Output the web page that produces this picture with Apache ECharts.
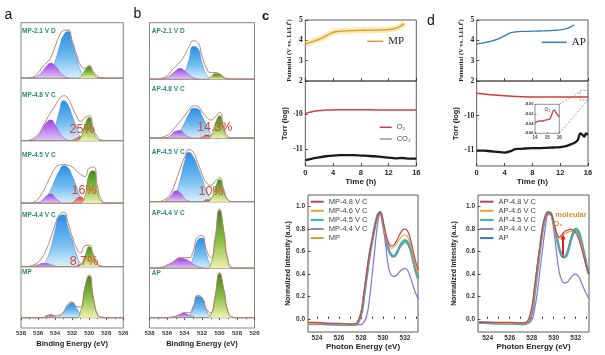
<!DOCTYPE html>
<html><head><meta charset="utf-8">
<script src="https://cdn.jsdelivr.net/npm/echarts@6/dist/echarts.min.js"></script>
<style>html,body{margin:0;padding:0;background:#fff}#c{width:605px;height:355px}</style>
</head><body><div id="c"></div>
<script>
// ---------- XPS (O 1s) data: binding energy grid and peak components (fraction of sub-panel height) ----------
const XPS_EV = [538,537.5,537,536.5,536,535.5,535,534.5,534,533.5,533,532.5,532,531.5,531,530.5,530,529.5,529,528.5,528,527.5,527,526.5,526];

const a1Purple = [0,0,0,0.01,0.05,0.12,0.22,0.27,0.22,0.12,0.05,0.01,0,0,0,0,0,0,0,0,0,0,0,0,0];
const a1Blue   = [0,0,0,0,0,0,0.03,0.10,0.30,0.56,0.78,0.84,0.64,0.38,0.13,0.02,0,0,0,0,0,0,0,0,0];
const a1Green  = [0,0,0,0,0,0,0,0,0,0,0,0,0,0,0.03,0.14,0.21,0.09,0.01,0,0,0,0,0,0];
const a1Env    = [0,0,0.01,0.03,0.10,0.20,0.28,0.38,0.57,0.76,0.86,0.87,0.68,0.44,0.23,0.18,0.23,0.12,0.04,0.01,0,0,0,0,0];

const a2Purple = [0,0,0,0.02,0.07,0.18,0.29,0.33,0.25,0.13,0.05,0.01,0,0,0,0,0,0,0,0,0,0,0,0,0];
const a2Blue   = [0,0,0,0,0,0,0.01,0.07,0.22,0.47,0.64,0.58,0.40,0.22,0.05,0,0,0,0,0,0,0,0,0,0];
const a2Red    = [0,0,0,0,0,0,0,0,0,0,0,0,0.01,0.04,0.065,0.05,0.02,0,0,0,0,0,0,0,0];
const a2Green  = [0,0,0,0,0,0,0,0,0,0,0,0,0,0,0.05,0.25,0.37,0.15,0.02,0,0,0,0,0,0];
const a2Env    = [0,0,0.01,0.04,0.10,0.21,0.34,0.46,0.56,0.67,0.72,0.68,0.54,0.40,0.31,0.37,0.40,0.20,0.05,0.01,0,0,0,0,0];

const a3Purple = [0,0,0,0,0.01,0.05,0.12,0.15,0.09,0.03,0,0,0,0,0,0,0,0,0,0,0,0,0,0,0];
const a3Blue   = [0,0,0,0,0.01,0.04,0.10,0.22,0.38,0.52,0.60,0.57,0.44,0.27,0.10,0.02,0,0,0,0,0,0,0,0,0];
const a3Red    = [0,0,0,0,0,0,0,0,0,0,0,0,0.01,0.07,0.10,0.04,0.01,0,0,0,0,0,0,0,0];
const a3Green  = [0,0,0,0,0,0,0,0,0,0,0,0,0,0,0.01,0.11,0.47,0.52,0.16,0.02,0,0,0,0,0];
const a3Env    = [0,0,0,0.02,0.07,0.17,0.30,0.44,0.56,0.61,0.62,0.61,0.58,0.52,0.46,0.43,0.56,0.58,0.25,0.04,0,0,0,0,0];

const a4Purple = [0,0,0,0.01,0.03,0.05,0.05,0.03,0.01,0,0,0,0,0,0,0,0,0,0,0,0,0,0,0,0];
const a4Blue   = [0,0,0,0,0,0.03,0.11,0.30,0.57,0.80,0.82,0.62,0.42,0.20,0.05,0,0,0,0,0,0,0,0,0,0];
const a4Red    = [0,0,0,0,0,0,0,0,0,0,0,0,0,0.01,0.03,0.03,0.01,0,0,0,0,0,0,0,0];
const a4Green  = [0,0,0,0,0,0,0,0,0,0,0,0,0,0,0.03,0.17,0.315,0.17,0.03,0,0,0,0,0,0];
const a4Env    = [0,0,0.01,0.03,0.07,0.15,0.28,0.46,0.66,0.82,0.86,0.70,0.48,0.30,0.22,0.33,0.34,0.19,0.05,0.01,0,0,0,0,0];

const a5Purple = [0,0,0,0,0,0,0.03,0.05,0.02,0,0,0,0,0,0,0,0,0,0,0,0,0,0,0,0];
const a5Blue   = [0,0,0,0,0,0,0,0,0,0.03,0.11,0.24,0.29,0.19,0.07,0.01,0,0,0,0,0,0,0,0,0];
const a5Green  = [0,0,0,0,0,0,0,0,0,0,0,0,0,0,0.13,0.58,0.82,0.37,0.05,0,0,0,0,0,0];
const a5Env    = [0,0,0,0,0,0,0.04,0.06,0.04,0.05,0.12,0.26,0.31,0.22,0.21,0.60,0.84,0.39,0.06,0.01,0,0,0,0,0];

const b1Purple = [0,0,0,0.01,0.03,0.08,0.15,0.19,0.15,0.08,0.03,0.01,0,0,0,0,0,0,0,0,0,0,0,0,0];
const b1Blue   = [0,0,0,0,0,0,0,0.02,0.11,0.34,0.58,0.55,0.29,0.08,0.01,0,0,0,0,0,0,0,0,0,0];
const b1Green  = [0,0,0,0,0,0,0,0,0,0,0,0,0,0,0.04,0.10,0.09,0.03,0,0,0,0,0,0,0];
const b1Env    = [0,0,0,0.02,0.06,0.15,0.23,0.31,0.42,0.57,0.68,0.65,0.42,0.20,0.12,0.12,0.10,0.04,0.01,0,0,0,0,0,0];

const b2Purple = [0,0,0,0,0.01,0.06,0.12,0.13,0.07,0.02,0,0,0,0,0,0,0,0,0,0,0,0,0,0,0];
const b2Blue   = [0,0,0,0,0,0.01,0.05,0.12,0.26,0.41,0.51,0.50,0.38,0.23,0.08,0.01,0,0,0,0,0,0,0,0,0];
const b2Red    = [0,0,0,0,0,0,0,0,0,0,0,0,0.02,0.056,0.04,0.01,0,0,0,0,0,0,0,0,0];
const b2Green  = [0,0,0,0,0,0,0,0,0,0,0,0,0,0,0.03,0.24,0.38,0.13,0.01,0,0,0,0,0,0];
const b2Env    = [0,0,0,0.02,0.05,0.11,0.20,0.29,0.38,0.48,0.55,0.54,0.45,0.36,0.31,0.36,0.44,0.18,0.03,0,0,0,0,0,0];

const b3Purple = [0,0,0,0,0.03,0.10,0.17,0.14,0.05,0.01,0,0,0,0,0,0,0,0,0,0,0,0,0,0,0];
const b3Blue   = [0,0,0,0,0.01,0.04,0.13,0.34,0.62,0.78,0.71,0.55,0.37,0.18,0.05,0,0,0,0,0,0,0,0,0,0];
const b3Red    = [0,0,0,0,0,0,0,0,0,0,0,0,0,0.03,0.03,0.01,0,0,0,0,0,0,0,0,0];
const b3Green  = [0,0,0,0,0,0,0,0,0,0,0,0,0,0,0.04,0.21,0.35,0.16,0.02,0,0,0,0,0,0];
const b3Env    = [0,0,0,0.02,0.06,0.15,0.32,0.52,0.70,0.82,0.78,0.62,0.44,0.30,0.26,0.32,0.38,0.19,0.03,0,0,0,0,0,0];

const b4Purple = [0,0,0,0.01,0.04,0.07,0.12,0.15,0.14,0.11,0.06,0.03,0.01,0,0,0,0,0,0,0,0,0,0,0,0];
const b4Blue   = [0,0,0,0,0,0,0,0,0,0.03,0.17,0.42,0.455,0.22,0.045,0,0,0,0,0,0,0,0,0,0];
const b4Green  = [0,0,0,0,0,0,0,0,0,0,0,0,0,0,0.06,0.41,0.87,0.53,0.09,0,0,0,0,0,0];
const b4Env    = [0,0,0.01,0.02,0.05,0.08,0.13,0.16,0.16,0.16,0.26,0.47,0.49,0.28,0.16,0.46,0.89,0.55,0.10,0.01,0,0,0,0,0];

const b5Purple = [0,0,0,0,0,0.01,0.03,0.07,0.09,0.05,0.02,0,0,0,0,0,0,0,0,0,0,0,0,0,0];
const b5Blue   = [0,0,0,0,0,0,0,0,0,0.04,0.20,0.43,0.40,0.16,0.03,0,0,0,0,0,0,0,0,0,0];
const b5Green  = [0,0,0,0,0,0,0,0,0,0,0,0,0,0,0.06,0.42,0.89,0.55,0.10,0.01,0,0,0,0,0];
const b5Env    = [0,0,0,0,0,0.01,0.03,0.07,0.10,0.10,0.23,0.45,0.41,0.18,0.10,0.44,0.91,0.56,0.11,0.01,0,0,0,0,0];

const labelsA = ['MP-2.1 V D','MP-4.8 V C','MP-4.5 V C','MP-4.4 V C','MP'];
const labelsB = ['AP-2.1 V D','AP-4.8 V C','AP-4.5 V C','AP-4.4 V C','AP'];
const pctA = ['','25%','16%','8.7%',''];
const pctB = ['','14.3%','10%','',''];

// ---------- Potential / gas evolution ----------
const timeMP = [0,0.5,1,1.5,2,2.5,3,3.5,4,4.5,5,6,7,8,9,10,11,12,12.5,13,13.5,14,14.3];
const potMP  = [3.83,3.88,3.93,3.99,4.05,4.13,4.22,4.31,4.39,4.43,4.45,4.47,4.48,4.49,4.5,4.5,4.51,4.53,4.55,4.59,4.65,4.76,4.83];
const timeAP = [0,1,2,3,4,4.5,5,5.5,6,7,8,9,10,11,12,12.5,13,13.5,14];
const potAP  = [3.83,3.88,3.95,4.06,4.22,4.32,4.38,4.41,4.43,4.44,4.45,4.46,4.47,4.49,4.51,4.54,4.59,4.66,4.77];
const timeO2c = [0,0.5,1,1.5,2,3,4,5,6,8,10,12,14,16];
const torrO2c = [-9.97,-9.94,-9.92,-9.9,-9.89,-9.875,-9.87,-9.865,-9.865,-9.865,-9.87,-9.87,-9.87,-9.87];
const timeCO2c = [0,1,2,3,4,5,6,7,8,9,10,11,12,13,14,15,16];
const torrCO2c = [-11.31,-11.27,-11.23,-11.2,-11.18,-11.17,-11.17,-11.17,-11.18,-11.19,-11.2,-11.22,-11.24,-11.26,-11.25,-11.27,-11.27];
const timeO2d = [0,2,4,6,8,10,12,14,16];
const torrO2d = [-9.35,-9.39,-9.42,-9.44,-9.46,-9.46,-9.46,-9.46,-9.46];
const timeCO2d = [0,1,2,3,4,5,5.5,6,7,8,9,10,11,12,13,13.5,14,14.5,14.9,15.2,15.5,15.7,16];
const torrCO2d = [-11.02,-11.02,-11.04,-11.06,-11.08,-11.03,-10.98,-10.97,-10.96,-10.95,-10.95,-10.94,-10.93,-10.92,-10.88,-10.84,-10.80,-10.72,-10.52,-10.56,-10.61,-10.52,-10.56];
const timeInset = [14,14.2,14.4,14.6,14.8,15,15.2,15.3,15.4,15.5,15.6,15.7,15.8,15.9,16];
const torrInset = [-8.637,-8.636,-8.634,-8.635,-8.633,-8.632,-8.631,-8.626,-8.62,-8.613,-8.612,-8.616,-8.62,-8.623,-8.625];
const torrTicks = [-11,-10];

// ---------- O K-edge XAS ----------
const XAS_EV = [523.2,524,525,526,527,527.5,528,528.25,528.5,528.75,529,529.25,529.5,529.75,530,530.25,530.5,530.75,531,531.25,531.5,531.75,532,532.25,532.5,532.75,533,533.2];
const xasMP48 = [-0.03,-0.03,-0.04,-0.04,-0.045,-0.04,0.05,0.22,0.40,0.57,0.70,0.82,0.92,0.95,0.87,0.76,0.68,0.65,0.66,0.70,0.75,0.79,0.80,0.78,0.71,0.60,0.50,0.44];
const xasMP46 = [-0.04,-0.04,-0.04,-0.045,-0.05,-0.045,0.06,0.22,0.40,0.57,0.70,0.83,0.93,0.95,0.86,0.74,0.66,0.63,0.64,0.67,0.71,0.74,0.75,0.73,0.66,0.56,0.46,0.40];
const xasMP45 = [-0.04,-0.04,-0.045,-0.05,-0.05,-0.05,0.04,0.19,0.37,0.55,0.69,0.82,0.92,0.95,0.85,0.72,0.62,0.57,0.56,0.59,0.64,0.68,0.70,0.68,0.62,0.52,0.42,0.36];
const xasMP44 = [-0.05,-0.05,-0.05,-0.05,-0.05,-0.05,0.03,0.17,0.35,0.53,0.68,0.81,0.91,0.94,0.84,0.71,0.61,0.56,0.55,0.58,0.63,0.66,0.68,0.66,0.60,0.50,0.40,0.34];
const xasMP   = [-0.04,-0.04,-0.05,-0.05,-0.05,-0.05,-0.05,-0.03,0.02,0.16,0.38,0.62,0.84,0.94,0.83,0.65,0.46,0.39,0.38,0.39,0.42,0.44,0.45,0.43,0.37,0.29,0.22,0.18];
const xasAP48 = [-0.03,-0.03,-0.03,-0.03,-0.035,-0.03,0.10,0.28,0.47,0.65,0.82,0.92,0.95,0.94,0.86,0.77,0.73,0.75,0.78,0.79,0.80,0.79,0.77,0.72,0.64,0.55,0.46,0.40];
const xasAP46 = [-0.03,-0.03,-0.035,-0.04,-0.04,-0.035,0.08,0.26,0.45,0.63,0.80,0.91,0.95,0.94,0.85,0.76,0.72,0.74,0.76,0.77,0.78,0.78,0.77,0.73,0.66,0.56,0.46,0.39];
const xasAP45 = [-0.03,-0.035,-0.04,-0.04,-0.045,-0.04,0.05,0.22,0.42,0.62,0.80,0.91,0.95,0.94,0.85,0.74,0.63,0.56,0.55,0.59,0.68,0.76,0.80,0.78,0.70,0.59,0.47,0.40];
const xasAP44 = [-0.04,-0.04,-0.04,-0.045,-0.045,-0.045,0.04,0.20,0.40,0.60,0.78,0.90,0.94,0.93,0.84,0.73,0.63,0.57,0.56,0.60,0.67,0.74,0.78,0.76,0.69,0.58,0.46,0.39];
const xasAP   = [-0.03,-0.03,-0.035,-0.04,-0.04,-0.04,-0.01,0.08,0.23,0.43,0.63,0.82,0.93,0.93,0.80,0.60,0.42,0.34,0.32,0.33,0.36,0.39,0.40,0.38,0.33,0.27,0.22,0.18];
const xasNamesC = ['MP-4.8 V C','MP-4.6 V C','MP-4.5 V C','MP-4.4 V C','MP'];
const xasNamesD = ['AP-4.8 V C','AP-4.6 V C','AP-4.5 V C','AP-4.4 V C','AP'];
const xasYTicks = [0,0.2,0.4,0.6,0.8,1.0];
const xasXTicks = [524,526,528,530,532];
const xasMinorX = [524,525,526,527,528,529,530,531,532,533];

// ---------- build ----------
const SANS = 'Liberation Sans, Arial, sans-serif';
const SERIF = 'Liberation Serif, Times New Roman, serif';
const G = echarts.graphic.LinearGradient;
const grids = [], xAxes = [], yAxes = [], series = [];
const xy = (xs, ys) => xs.map((x, i) => [x, ys[i]]);

function addGrid(g) {
  grids.push(Object.assign({show: true, borderColor: '#555', borderWidth: 0.8, backgroundColor: 'rgba(0,0,0,0)', containLabel: false}, g));
  return grids.length - 1;
}
function fill(kind) {
  if (kind === 'blue') return new G(0, 0, 0, 1, [{offset: 0, color: '#2a8ee2'}, {offset: 0.55, color: '#72bcf0'}, {offset: 1, color: '#dcf0fc'}]);
  if (kind === 'purple') return new G(0, 0, 0, 1, [{offset: 0, color: '#9d45e4'}, {offset: 1, color: '#e2c6f6'}]);
  if (kind === 'green') return new G(0, 0, 0, 1, [{offset: 0, color: '#3a8a1a'}, {offset: 0.5, color: '#86bd44'}, {offset: 1, color: '#eef2b0'}]);
  return new G(0, 0, 0, 1, [{offset: 0, color: '#e2413b'}, {offset: 1, color: '#f4b3a6'}]);
}
const edge = {blue: '#3a95dc', purple: '#9a4ad6', green: '#4d9428', red: '#d8443c'};
const XPS_SMOOTH = 0.6;

function addXps(rect, comps, ymin, showAxis) {
  const gi = addGrid(Object.assign({borderColor: '#666'}, rect));
  xAxes.push({gridIndex: gi, type: 'value', min: 526, max: 538, interval: 2, inverse: true, show: showAxis,
    axisLine: {show: false}, splitLine: {show: false},
    axisTick: {show: true, inside: false, length: 2.5, lineStyle: {color: '#333', width: 0.8}},
    minorTick: {show: true, splitNumber: 2, length: 1.5, lineStyle: {color: '#333', width: 0.8}}, minorSplitLine: {show: false},
    axisLabel: {fontSize: 6, fontWeight: 'bold', color: '#333', margin: 2.5, fontFamily: SANS},
    name: 'Binding Energy (eV)', nameLocation: 'middle', nameGap: 12,
    nameTextStyle: {fontSize: 7.5, fontWeight: 'bold', color: '#222', fontFamily: SANS}});
  yAxes.push({gridIndex: gi, type: 'value', min: ymin, max: 1, show: false});
  ['blue', 'purple', 'red', 'green'].forEach((k, j) => {
    if (!comps[k]) return;
    series.push({type: 'line', xAxisIndex: gi, yAxisIndex: gi, data: xy(XPS_EV, comps[k]), smooth: XPS_SMOOTH, symbol: 'none', silent: true,
      lineStyle: {width: 0.6, color: edge[k]}, areaStyle: {color: fill(k), opacity: 1}, z: 2 + j});
  });
  series.push({type: 'line', xAxisIndex: gi, yAxisIndex: gi, data: xy(XPS_EV, comps.env), smooth: XPS_SMOOTH, symbol: 'none', silent: true,
    lineStyle: {width: 1, color: '#c27a6a'}, z: 8,
    markLine: {silent: true, symbol: 'none', data: [{yAxis: 0}], label: {show: false}, lineStyle: {color: '#d6a0a6', width: 0.8, type: 'solid'}}});
}

const compsA = [
  {purple: a1Purple, blue: a1Blue, green: a1Green, env: a1Env},
  {purple: a2Purple, blue: a2Blue, red: a2Red, green: a2Green, env: a2Env},
  {purple: a3Purple, blue: a3Blue, red: a3Red, green: a3Green, env: a3Env},
  {purple: a4Purple, blue: a4Blue, red: a4Red, green: a4Green, env: a4Env},
  {purple: a5Purple, blue: a5Blue, green: a5Green, env: a5Env}];
const compsB = [
  {purple: b1Purple, blue: b1Blue, green: b1Green, env: b1Env},
  {purple: b2Purple, blue: b2Blue, red: b2Red, green: b2Green, env: b2Env},
  {purple: b3Purple, blue: b3Blue, red: b3Red, green: b3Green, env: b3Env},
  {purple: b4Purple, blue: b4Blue, green: b4Green, env: b4Env},
  {purple: b5Purple, blue: b5Blue, green: b5Green, env: b5Env}];
const topsA = [22.7, 78.3, 140.7, 203.3, 266.7], hA = [55.6, 62.4, 62.6, 63.4, 61.3];
const topsB = [22.7, 79.3, 138.3, 201.7, 268.3], hB = [56.6, 59, 63.4, 66.6, 59.7];
for (let i = 0; i < 5; i++) addXps({left: 21, width: 102.3, top: topsA[i], height: hA[i]}, compsA[i], i === 4 ? -0.202 : 0, i === 4);
for (let i = 0; i < 5; i++) addXps({left: 149.5, width: 105, top: topsB[i], height: hB[i]}, compsB[i], i === 4 ? -0.2085 : 0, i === 4);

// potential + torr panels
function addPotTorr(left, width, torrMin, torrMax, potName, potT, potV, potColor, halo, o2t, o2v, co2t, co2v, suffix) {
  const tickStyle = {lineStyle: {color: '#222', width: 0.8}};
  const gp = addGrid({left: left, width: width, top: 20, height: 61, borderColor: '#333'});
  xAxes.push({gridIndex: gp, type: 'value', min: 0, max: 16, interval: 4, axisLine: {show: false}, splitLine: {show: false},
    axisLabel: {show: false}, axisTick: Object.assign({show: true, inside: true, length: 3}, tickStyle)});
  yAxes.push({gridIndex: gp, type: 'value', min: 2, max: 5, interval: 1, axisLine: {show: false}, splitLine: {show: false},
    axisTick: Object.assign({show: true, inside: true, length: 2.5}, tickStyle),
    axisLabel: {fontSize: 7.5, fontWeight: 'bold', color: '#222', fontFamily: SERIF, margin: 2.5},
    name: 'Potential (V vs. Li/Li⁺)', nameLocation: 'middle', nameRotate: 90, nameGap: 12,
    nameTextStyle: {fontSize: 6.5, fontWeight: 'bold', color: '#222', fontFamily: SERIF}});
  if (halo) series.push({type: 'line', xAxisIndex: gp, yAxisIndex: gp, data: xy(potT, potV), smooth: true, symbol: 'none', silent: true,
    lineStyle: {width: 6, color: 'rgba(246,214,120,0.55)'}, z: 2});
  series.push({name: potName, type: 'line', xAxisIndex: gp, yAxisIndex: gp, data: xy(potT, potV), smooth: true, symbol: 'none',
    lineStyle: {width: 1.3, color: potColor}, itemStyle: {color: potColor}, z: 3});
  const gt = addGrid({left: left, width: width, top: 81, height: 85, borderColor: '#333'});
  xAxes.push({gridIndex: gt, type: 'value', min: 0, max: 16, interval: 4, axisLine: {show: false}, splitLine: {show: false},
    axisTick: Object.assign({show: true, inside: true, length: 3}, tickStyle),
    axisLabel: {fontSize: 7.5, fontWeight: 'bold', color: '#222', fontFamily: SANS, margin: 3},
    name: 'Time (h)', nameLocation: 'middle', nameGap: 12, nameTextStyle: {fontSize: 8, fontWeight: 'bold', color: '#222', fontFamily: SANS}});
  yAxes.push({gridIndex: gt, type: 'value', min: torrMin, max: torrMax, axisLine: {show: false}, splitLine: {show: false},
    axisTick: Object.assign({show: true, inside: true, length: 2.5, customValues: torrTicks}, tickStyle),
    axisLabel: {customValues: torrTicks, fontSize: 7.5, fontWeight: 'bold', color: '#222', fontFamily: SERIF, margin: 2.5},
    name: 'Torr (log)', nameLocation: 'middle', nameRotate: 90, nameGap: 15,
    nameTextStyle: {fontSize: 7.5, fontWeight: 'bold', color: '#222', fontFamily: SANS}});
  series.push({name: 'O₂' + suffix, type: 'line', xAxisIndex: gt, yAxisIndex: gt, data: xy(o2t, o2v), smooth: true, symbol: 'none',
    lineStyle: {width: 1.5, color: '#d23c3c'}, itemStyle: {color: '#d23c3c'}, z: 3});
  series.push({name: 'CO₂' + suffix, type: 'line', xAxisIndex: gt, yAxisIndex: gt, data: xy(co2t, co2v), smooth: 0.3, symbol: 'none',
    lineStyle: {width: 2.3, color: '#1a1a1a'}, itemStyle: {color: '#9a9a9a'}, z: 3});
  return gt;
}
addPotTorr(305.3, 111, -11.48, -9.04, 'MP', timeMP, potMP, '#d99a2b', true, timeO2c, torrO2c, timeCO2c, torrCO2c, '');
addPotTorr(476.7, 111.3, -11.47, -8.99, 'AP', timeAP, potAP, '#2f7fb5', false, timeO2d, torrO2d, timeCO2d, torrCO2d, ' ');

// inset
const gin = addGrid({left: 535, width: 24.3, top: 104.3, height: 29, borderColor: '#444', borderWidth: 0.6, backgroundColor: '#fff', z: 5});
xAxes.push({gridIndex: gin, type: 'value', min: 14, max: 16, interval: 1, axisLine: {show: false}, splitLine: {show: false}, z: 5,
  axisTick: {show: true, inside: true, length: 1.5, lineStyle: {color: '#333', width: 0.5}},
  axisLabel: {fontSize: 4.5, fontWeight: 'bold', color: '#333', margin: 1.5}});
yAxes.push({gridIndex: gin, type: 'value', min: -8.66, max: -8.60, interval: 0.02, axisLine: {show: false}, splitLine: {show: false}, z: 5,
  axisTick: {show: true, inside: true, length: 1.5, lineStyle: {color: '#333', width: 0.5}},
  axisLabel: {fontSize: 4, fontWeight: 'bold', color: '#333', margin: 1.5, formatter: v => v.toFixed(2)}});
series.push({name: 'O₂ inset', type: 'line', xAxisIndex: gin, yAxisIndex: gin, data: xy(timeInset, torrInset), smooth: 0.3, symbol: 'none',
  lineStyle: {width: 1.3, color: '#d9383c'}, z: 6});

// XAS panels
const xasColors = ['#b8455c', '#f0a12e', '#2db8a8', '#8a8eae', '#8a70d2'];
const xasWidths = [1.2, 1.2, 2.6, 1.1, 1.2];
const xasZ = [7, 6, 3, 5, 4];
function addXas(left, width, xmin, xmax, names, curves, gap) {
  const g = addGrid({left: left, width: width, top: 195, height: 137, borderColor: '#333'});
  xAxes.push({gridIndex: g, type: 'value', min: xmin, max: xmax, axisLine: {show: false}, splitLine: {show: false},
    axisTick: {show: true, inside: true, length: 2.5, customValues: xasMinorX, lineStyle: {color: '#222', width: 0.8}},
    axisLabel: {customValues: xasXTicks, fontSize: 6.5, fontWeight: 'bold', color: '#333', margin: 3, fontFamily: SANS},
    name: 'Photon Energy (eV)', nameLocation: 'middle', nameGap: 11, nameTextStyle: {fontSize: 8, fontWeight: 'bold', color: '#222', fontFamily: SANS}});
  yAxes.push({gridIndex: g, type: 'value', min: -0.116, max: 1.104, axisLine: {show: false}, splitLine: {show: false},
    axisTick: {show: true, inside: true, length: 2.5, customValues: xasYTicks, lineStyle: {color: '#222', width: 0.8}},
    axisLabel: {customValues: xasYTicks, fontSize: 6.5, fontWeight: 'bold', color: '#333', margin: 3, fontFamily: SANS, formatter: v => v.toFixed(1)},
    name: 'Normalized Intensity (a.u.)', nameLocation: 'middle', nameRotate: 90, nameGap: gap,
    nameTextStyle: {fontSize: 6.8, fontWeight: 'bold', color: '#222', fontFamily: SANS}});
  curves.forEach((c, i) => series.push({name: names[i], type: 'line', xAxisIndex: g, yAxisIndex: g, data: xy(XAS_EV, c), smooth: 0.4, symbol: 'none',
    lineStyle: {width: xasWidths[i], color: xasColors[i]}, itemStyle: {color: xasColors[i]}, z: xasZ[i]}));
  return g;
}
addXas(308, 110, 523.18, 533.18, xasNamesC, [xasMP48, xasMP46, xasMP45, xasMP44, xasMP], 16);
addXas(478, 111, 523.12, 533.21, xasNamesD, [xasAP48, xasAP46, xasAP45, xasAP44, xasAP], 20);
// arrow marking molecular O2 growth (AP panel), attached to the AP-4.8 V C series
series[series.length - 5].markLine = {silent: true, symbol: ['none', 'triangle'], symbolSize: [5, 6], label: {show: false},
  lineStyle: {color: '#e01e1e', width: 2, type: 'solid'}, data: [[{coord: [530.85, 0.55]}, {coord: [530.85, 0.735]}]]};

// ---------- annotations ----------
const T = (x, y, text, font, fill, align) => ({type: 'text', x: x, y: y, z: 20, silent: true,
  style: {text: text, font: font, fill: fill, align: align || 'left', verticalAlign: 'middle', textAlign: align || 'left', textVerticalAlign: 'middle'}});
const gfx = [
  T(8.5, 15.5, 'a', '14px ' + SANS, '#111', 'center'),
  T(137.5, 14, 'b', '14px ' + SANS, '#111', 'center'),
  T(265.5, 16, 'c', 'bold 13px ' + SANS, '#111', 'center'),
  T(431, 21, 'd', '14px ' + SANS, '#111', 'center')];
const labYA = [31, 95.3, 155, 215, 272.7], labYB = [31, 89.3, 152.7, 213.3, 273.3];
labelsA.forEach((t, i) => gfx.push(T(22, labYA[i], t, 'bold 6.5px ' + SANS, '#2a8a77')));
labelsB.forEach((t, i) => gfx.push(T(151.7, labYB[i], t, 'bold 6.5px ' + SANS, '#2a8a77')));
const pctPosA = [null, [82, 130], [84, 191], [84, 262], null], pctPosB = [null, [214.7, 128], [211, 191.5], null, null];
pctA.forEach((t, i) => { if (t) gfx.push(T(pctPosA[i][0], pctPosA[i][1], t, '12.5px ' + SANS, '#d9443c', 'center')); });
pctB.forEach((t, i) => { if (t) gfx.push(T(pctPosB[i][0], pctPosB[i][1], t, '12.5px ' + SANS, '#d9443c', 'center')); });
gfx.push(T(547.5, 109.5, 'O₂', '5px ' + SANS, '#333', 'center'));
gfx.push(T(571, 215, 'moleular', 'bold 7.5px ' + SANS, '#de8a2c', 'center'));
gfx.push(T(558, 224, 'O₂', 'bold 7.5px ' + SANS, '#de8a2c', 'center'));
gfx.push({type: 'rect', z: 20, silent: true, shape: {x: 580, y: 90.5, width: 8, height: 9.5}, style: {fill: 'none', stroke: '#666', lineWidth: 0.6, lineDash: [2, 1.5]}});
gfx.push({type: 'line', z: 20, silent: true, shape: {x1: 559.3, y1: 104.3, x2: 580, y2: 92}, style: {stroke: '#666', lineWidth: 0.6, lineDash: [2, 1.5]}});
gfx.push({type: 'line', z: 20, silent: true, shape: {x1: 559.3, y1: 133.3, x2: 588, y2: 100}, style: {stroke: '#666', lineWidth: 0.6, lineDash: [2, 1.5]}});

const legBase = {orient: 'vertical', padding: 0, icon: 'rect', itemHeight: 2, itemGap: 0.1, selectedMode: false,
  textStyle: {fontSize: 7.5, color: '#444', fontFamily: SANS, lineHeight: 9}};
const option = {
  animation: false,
  backgroundColor: '#fff',
  textStyle: {fontFamily: SANS},
  grid: grids, xAxis: xAxes, yAxis: yAxes, series: series, graphic: gfx,
  legend: [
    {data: ['MP'], left: 367.3, top: 35.8, padding: 0, icon: 'rect', itemWidth: 16, itemHeight: 1.5, selectedMode: false,
      textStyle: {fontSize: 11, color: '#222', fontFamily: SERIF}},
    {data: ['AP'], left: 541.7, top: 36.8, padding: 0, icon: 'rect', itemWidth: 25, itemHeight: 1.5, selectedMode: false,
      textStyle: {fontSize: 11, color: '#222', fontFamily: SERIF}},
    Object.assign({}, legBase, {data: ['O₂', {name: 'CO₂', itemStyle: {color: '#9a9a9a'}}], left: 379.7, top: 122.8, itemWidth: 12, itemHeight: 1.5, itemGap: 2.7}),
    Object.assign({}, legBase, {data: xasNamesC, left: 310.7, top: 197.2, itemWidth: 13}),
    Object.assign({}, legBase, {data: xasNamesD, left: 480, top: 197.2, itemWidth: 13.5})
  ]
};
const chart = echarts.init(document.getElementById('c'), null, {renderer: 'canvas'});
chart.setOption(option);
</script></body></html>
